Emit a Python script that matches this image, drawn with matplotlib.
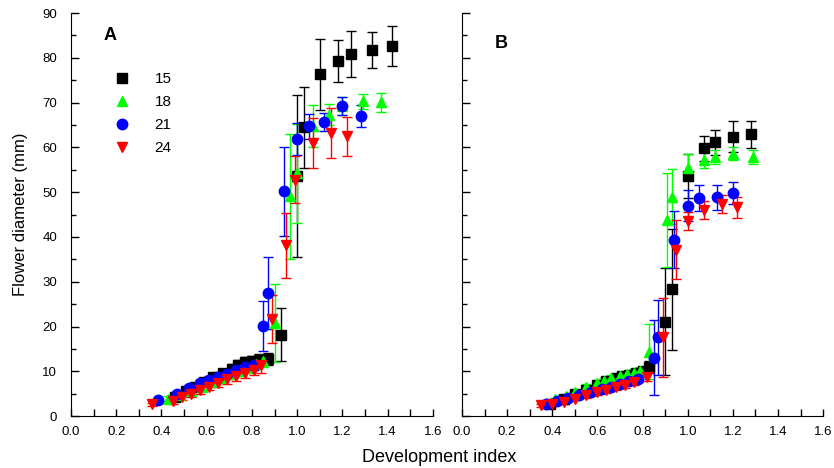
import matplotlib
matplotlib.use("Agg")
import matplotlib.pyplot as plt
from matplotlib.ticker import MultipleLocator

plt.rcParams['font.family'] = ['Liberation Sans', 'DejaVu Sans']

temps = ['15', '18', '21', '24']
markers = ['s', '^', 'o', 'v']
colors = ['#000000', '#00ff00', '#0000ff', '#ff0000']

# Panel A
a15_x = [0.46, 0.51, 0.55, 0.59, 0.63, 0.67, 0.71, 0.74, 0.77, 0.80, 0.83, 0.87, 0.93, 1.00, 1.03, 1.10, 1.18, 1.24, 1.33, 1.42]
a15_y = [4.3, 5.5, 6.6, 7.7, 8.7, 9.6, 10.6, 11.4, 12.0, 12.3, 12.6, 12.8, 18.2, 53.6, 64.5, 76.3, 79.4, 80.9, 81.7, 82.6]
a15_e = [0.6, 0.7, 0.8, 0.8, 0.9, 1.0, 1.0, 1.1, 1.1, 1.2, 1.2, 1.3, 6.0, 18.0, 9.0, 7.9, 4.7, 5.1, 4.0, 4.5]

a18_x = [0.43, 0.48, 0.53, 0.58, 0.62, 0.66, 0.70, 0.74, 0.78, 0.82, 0.85, 0.90, 0.97, 1.00, 1.07, 1.14, 1.20, 1.29, 1.37]
a18_y = [3.8, 4.8, 5.6, 6.6, 7.5, 8.4, 9.3, 10.1, 10.8, 11.6, 12.3, 20.8, 49.1, 54.2, 64.7, 67.3, 69.3, 70.3, 70.1]
a18_e = [0.6, 0.7, 0.8, 0.8, 0.9, 1.0, 1.0, 1.1, 1.1, 1.2, 1.4, 8.8, 14.0, 11.0, 4.7, 2.4, 2.0, 1.7, 2.1]

a21_x = [0.385, 0.47, 0.52, 0.57, 0.61, 0.65, 0.69, 0.73, 0.77, 0.81, 0.85, 0.87, 0.94, 1.00, 1.05, 1.12, 1.20, 1.28]
a21_y = [3.5, 5.0, 6.3, 7.3, 8.0, 8.8, 9.5, 10.2, 10.9, 11.5, 20.1, 27.5, 50.2, 61.9, 64.7, 65.6, 69.3, 67.0]
a21_e = [0.5, 0.6, 0.7, 0.8, 0.9, 1.0, 1.0, 1.1, 1.1, 1.2, 5.6, 8.1, 10.0, 3.5, 2.8, 2.0, 2.0, 2.4]

a24_x = [0.36, 0.45, 0.49, 0.53, 0.57, 0.61, 0.65, 0.69, 0.73, 0.77, 0.81, 0.84, 0.89, 0.95, 0.99, 1.07, 1.15, 1.22]
a24_y = [2.6, 3.3, 4.2, 5.0, 5.8, 6.6, 7.4, 8.2, 8.9, 9.6, 10.3, 11.3, 21.7, 38.1, 52.8, 61.0, 63.2, 62.5]
a24_e = [0.4, 0.5, 0.6, 0.7, 0.8, 0.8, 0.9, 1.0, 1.0, 1.1, 1.1, 1.7, 5.3, 7.3, 5.3, 5.5, 5.6, 4.4]

# Panel B
b15_x = [0.39, 0.45, 0.50, 0.55, 0.60, 0.64, 0.68, 0.71, 0.74, 0.77, 0.80, 0.83, 0.90, 0.93, 1.00, 1.07, 1.12, 1.20, 1.28]
b15_y = [2.8, 3.8, 4.9, 5.9, 7.0, 7.8, 8.5, 8.9, 9.2, 9.6, 10.0, 10.9, 21.1, 28.3, 53.6, 59.8, 61.1, 62.4, 62.9]
b15_e = [0.4, 0.5, 0.5, 0.6, 0.7, 0.7, 0.8, 0.8, 0.9, 0.9, 1.0, 1.3, 12.0, 13.5, 5.0, 2.8, 2.8, 3.4, 3.0]

b18_x = [0.41, 0.46, 0.50, 0.55, 0.60, 0.63, 0.66, 0.70, 0.73, 0.76, 0.79, 0.83, 0.91, 0.93, 1.00, 1.07, 1.12, 1.20, 1.29]
b18_y = [3.7, 4.5, 5.3, 6.5, 7.3, 7.9, 8.4, 8.9, 9.3, 9.7, 10.1, 14.4, 43.8, 49.0, 55.5, 57.3, 57.9, 58.6, 57.9]
b18_e = [0.4, 0.5, 0.5, 0.6, 0.7, 0.7, 0.8, 0.8, 0.8, 0.9, 0.9, 6.2, 10.4, 6.2, 3.0, 2.0, 1.5, 1.5, 1.6]

b21_x = [0.37, 0.42, 0.47, 0.52, 0.57, 0.62, 0.66, 0.70, 0.74, 0.78, 0.85, 0.87, 0.94, 1.00, 1.05, 1.13, 1.20]
b21_y = [2.8, 3.3, 4.0, 4.7, 5.4, 6.0, 6.6, 7.2, 7.8, 8.3, 13.0, 17.6, 39.4, 47.0, 48.7, 48.9, 49.8]
b21_e = [0.3, 0.4, 0.4, 0.5, 0.5, 0.6, 0.6, 0.7, 0.7, 0.8, 8.4, 8.4, 6.4, 3.5, 2.9, 2.8, 2.4]

b24_x = [0.35, 0.40, 0.45, 0.50, 0.55, 0.60, 0.64, 0.68, 0.72, 0.76, 0.82, 0.89, 0.95, 1.00, 1.07, 1.15, 1.22]
b24_y = [2.4, 2.8, 3.2, 3.9, 4.6, 5.3, 5.8, 6.4, 7.0, 7.7, 8.7, 17.6, 37.1, 43.6, 46.1, 47.3, 46.6]
b24_e = [0.3, 0.3, 0.4, 0.4, 0.5, 0.5, 0.6, 0.6, 0.7, 0.7, 0.9, 8.8, 6.6, 2.0, 2.0, 2.0, 2.4]

panel_a = [(a15_x, a15_y, a15_e), (a18_x, a18_y, a18_e), (a21_x, a21_y, a21_e), (a24_x, a24_y, a24_e)]
panel_b = [(b15_x, b15_y, b15_e), (b18_x, b18_y, b18_e), (b21_x, b21_y, b21_e), (b24_x, b24_y, b24_e)]

fig = plt.figure(figsize=(8.34, 4.68), dpi=100)
ax_a = fig.add_axes([0.0851, 0.111, 0.434, 0.861])
ax_b = fig.add_axes([0.554, 0.111, 0.433, 0.861])

for ax, series, letter in [(ax_a, panel_a, 'A'), (ax_b, panel_b, 'B')]:
    for (x, y, e), t, m, c in zip(series, temps, markers, colors):
        ax.errorbar(x, y, yerr=e, fmt=m, color=c, ecolor=c, markersize=7.5,
                    elinewidth=1, capsize=3.5, capthick=1, label=t)
    ax.set_xlim(0, 1.6)
    ax.set_ylim(0, 90)
    ax.xaxis.set_major_locator(MultipleLocator(0.2))
    ax.xaxis.set_minor_locator(MultipleLocator(0.1))
    ax.yaxis.set_major_locator(MultipleLocator(10))
    ax.yaxis.set_minor_locator(MultipleLocator(5))
    ax.tick_params(which='both', direction='in', labelsize=9.5, width=1)
    ax.tick_params(axis='x', which='both', length=5, pad=7)
    ax.tick_params(axis='y', which='major', length=6, pad=10)
    ax.tick_params(axis='y', which='minor', length=3.5)
    ax.spines['top'].set_visible(False)
    ax.spines['right'].set_visible(False)
    ax.xaxis.set_major_formatter(matplotlib.ticker.FormatStrFormatter('%.1f'))

ax_a.text(0.09, 0.965, 'A', transform=ax_a.transAxes, fontsize=13, fontweight='bold', va='top')
ax_b.text(0.09, 0.945, 'B', transform=ax_b.transAxes, fontsize=13, fontweight='bold', va='top')
ax_b.set_yticklabels([])
ax_a.set_ylabel('Flower diameter (mm)', fontsize=12, labelpad=10)
fig.text(0.527, 0.012, 'Development index', ha='center', fontsize=13)

handles, labels = ax_a.get_legend_handles_labels()
ax_a.legend([h[0] for h in handles], labels, loc='upper left', bbox_to_anchor=(0.062, 0.888),
            frameon=False, fontsize=11, handletextpad=1.1, labelspacing=0.6)

fig.savefig('out.png', dpi=100)
